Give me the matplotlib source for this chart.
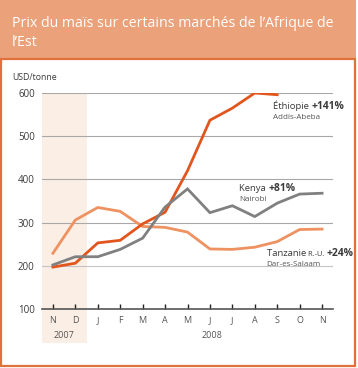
"""Maize prices in selected East African markets, Nov 2007 - Nov 2008."""
import matplotlib
matplotlib.use("Agg")

import matplotlib.pyplot as plt
import matplotlib.transforms as mtransforms
from matplotlib.patches import Rectangle

plt.rcParams["font.family"] = ["Open Sans", "DejaVu Sans"]

W, H = 358, 368

months = ["N", "D", "J", "F", "M", "A", "M", "J", "J", "A", "S", "O", "N"]
ethiopia = [197, 206, 253, 259, 297, 324, 420, 537, 565, 600, 596]
kenya = [202, 221, 221, 238, 264, 336, 378, 323, 339, 314, 345, 366, 368]
tanzania = [229, 306, 335, 326, 291, 289, 278, 239, 238, 243, 256, 284, 285]
yticks = [100, 200, 300, 400, 500, 600]

_ETH = "#e2561e"
_KEN = "#808080"
_TAN = "#ee9262"
_HEAD = "#eba17a"
_FRAME = "#e0703c"
_TXT = "#3a3a3a"


def fx(px):
    return px / W


def fy(py):
    return 1 - py / H


fig = plt.figure(figsize=(W / 100, H / 100), dpi=100)
fig.patch.set_facecolor("white")

# header band and framed box
fig.patches.append(Rectangle((0, fy(58)), fx(356), 58 / H, transform=fig.transFigure,
                             facecolor=_HEAD, edgecolor="none", zorder=0))
fig.patches.append(Rectangle((fx(1), fy(366)), fx(354), 307 / H, transform=fig.transFigure,
                             facecolor="none", edgecolor=_FRAME, lw=1.6, zorder=0))
fig.text(fx(12), fy(33), "Prix du maïs sur certains marchés de l’Afrique de\nl’Est",
         color="white", fontsize=10.2, va="center", ha="left", linespacing=1.3)

ax = fig.add_axes([fx(41.7), fy(309), fx(291.6), 216 / H])
ax.set_xlim(-0.5, 12.5)
ax.set_ylim(100, 600)
x = list(range(len(months)))

# shaded 2007 band, reaching below the axis to cover the year label
trans = mtransforms.blended_transform_factory(ax.transData, ax.transAxes)
ax.add_patch(Rectangle((-0.5, -34 / 216), 2, 1 + 34 / 216, transform=trans,
                       facecolor="#fbeee5", edgecolor="none", clip_on=False, zorder=0))

for v in yticks[1:]:
    ax.axhline(v, color="#c4c4c4" if v == 200 else "#a8a8a8", lw=0.8, zorder=1)

ax.plot(x, tanzania, color=_TAN, lw=2.0, zorder=3, solid_joinstyle="miter")
ax.plot(x[:len(ethiopia)], ethiopia, color=_ETH, lw=2.0, zorder=3, solid_joinstyle="miter")
ax.plot(x, kenya, color=_KEN, lw=2.0, zorder=4, solid_joinstyle="miter")

for s in ["top", "right", "left"]:
    ax.spines[s].set_visible(False)
ax.spines["bottom"].set_color("#555555")
ax.spines["bottom"].set_linewidth(1.2)
ax.set_facecolor("none")

ax.set_xticks(x)
ax.set_xticklabels(months)
ax.tick_params(axis="x", direction="in", length=3.5, width=1.0, color="#222222",
               labelsize=6.5, labelcolor="#555555", pad=5)
ax.set_yticks(yticks)
ax.tick_params(axis="y", length=0, labelsize=7, labelcolor=_TXT, pad=5)

ax.text(0.5, -0.1, "2007", transform=trans, ha="center", va="top",
        fontsize=6.5, color="#555555")
ax.text(7.1, -0.1, "2008", transform=trans, ha="center", va="top",
        fontsize=6.5, color="#555555")
fig.text(fx(12), fy(77), "USD/tonne", fontsize=6.3, color=_TXT, va="center")

fig.canvas.draw()
renderer = fig.canvas.get_renderer()


def label(px, py, parts, sub):
    cur = fx(px)
    for txt, size, weight in parts:
        t = fig.text(cur, fy(py), txt, fontsize=size, fontweight=weight,
                     color=_TXT, va="baseline", ha="left")
        bb = t.get_window_extent(renderer)
        cur = bb.x1 / fig.bbox.width
    fig.text(fx(px), fy(py + 10), sub, fontsize=5.8, color="#555555",
             va="baseline", ha="left")


label(273, 109, [("Éthiopie ", 6.8, "normal"), ("+141%", 7.4, "bold")], "Addis-Abeba")
label(239, 191, [("Kenya ", 6.8, "normal"), ("+81%", 7.4, "bold")], "Nairobi")
label(266.7, 256.5, [("Tanzanie ", 6.8, "normal"), ("R.-U. ", 5.3, "normal"),
                     ("+24%", 7.4, "bold")], "Dar-es-Salaam")

fig.savefig("out.png", dpi=100, facecolor="white")
